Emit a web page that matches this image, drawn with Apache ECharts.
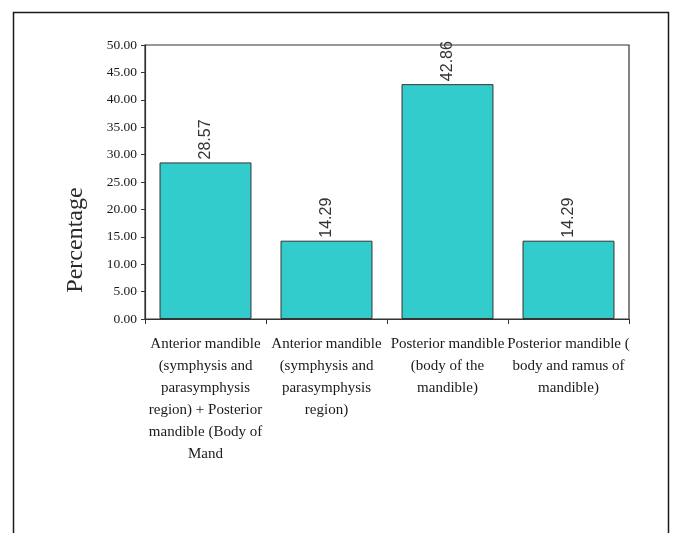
<!DOCTYPE html>
<html>
<head>
<meta charset="utf-8">
<style>
  html, body { margin: 0; padding: 0; background: #ffffff; }
  #chart { width: 681px; height: 533px; }
</style>
<script src="https://cdn.jsdelivr.net/npm/echarts@6/dist/echarts.min.js"></script>
</head>
<body>
<div id="chart"></div>
<script>
// Site of mandibular involvement (percentage of cases)
const categories = [
  'Anterior mandible\n(symphysis and\nparasymphysis\nregion) + Posterior\nmandible (Body of\nMand',
  'Anterior mandible\n(symphysis and\nparasymphysis\nregion)',
  'Posterior mandible\n(body of the\nmandible)',
  'Posterior mandible (\nbody and ramus of\nmandible)'
];
const percentages = [28.57, 14.29, 42.86, 14.29];
const yTitle = 'Percentage';
const yMin = 0;
const yMax = 50;
const yStep = 5;

const chart = echarts.init(document.getElementById('chart'), null, { renderer: 'canvas' });

chart.setOption({
  animation: false,
  backgroundColor: '#ffffff',
  graphic: [
    {
      // outer frame
      type: 'rect',
      shape: { x: 13.5, y: 12.5, width: 655, height: 560 },
      style: { fill: 'none', stroke: '#1a1a1a', lineWidth: 1.5 },
      silent: true,
      z: -1
    },
    {
      // value-axis title, sitting a little below the axis middle
      type: 'text',
      x: 76,
      y: 240,
      rotation: Math.PI / 2,
      style: {
        text: yTitle,
        fontFamily: 'Liberation Serif',
        fontSize: 24,
        fill: '#2a2a2a',
        align: 'center',
        verticalAlign: 'middle'
      },
      silent: true
    }
  ],
  grid: {
    left: 145, top: 45, right: 52, bottom: 214,
    show: true,
    borderColor: '#333333',
    borderWidth: 1.2,
    backgroundColor: 'transparent'
  },
  xAxis: {
    type: 'category',
    data: categories,
    axisLine: { lineStyle: { color: '#333333', width: 1.2 } },
    axisTick: { show: true, length: 5, lineStyle: { color: '#333333' } },
    axisLabel: {
      interval: 0,
      margin: 14,
      color: '#1a1a1a',
      fontFamily: 'Liberation Serif',
      fontSize: 15,
      lineHeight: 22,
      align: 'center'
    },
    splitLine: { show: false }
  },
  yAxis: {
    type: 'value',
    min: yMin,
    max: yMax,
    interval: yStep,
    axisLine: { show: true, lineStyle: { color: '#333333', width: 1.2 } },
    axisTick: { show: true, length: 4, lineStyle: { color: '#333333' } },
    axisLabel: {
      margin: 8,
      color: '#1a1a1a',
      fontFamily: 'Liberation Serif',
      fontSize: 13.5,
      formatter: v => v.toFixed(2)
    },
    splitLine: { show: false }
  },
  series: [{
    type: 'bar',
    data: percentages,
    barCategoryGap: '24%',
    itemStyle: { color: '#33CCCC', borderColor: '#333333', borderWidth: 1 },
    label: {
      show: true,
      position: 'top',
      rotate: 90,
      align: 'left',
      verticalAlign: 'middle',
      distance: 3,
      color: '#333333',
      fontFamily: 'Liberation Sans',
      fontSize: 16,
      formatter: p => p.value.toFixed(2)
    }
  }]
});
</script>
</body>
</html>
